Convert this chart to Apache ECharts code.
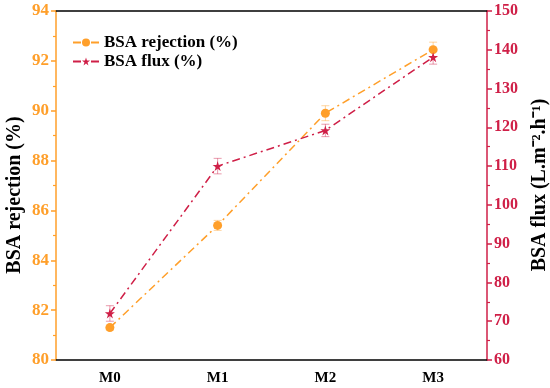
<!DOCTYPE html>
<html><head><meta charset="utf-8">
<script src="https://cdn.jsdelivr.net/npm/echarts@6/dist/echarts.min.js"></script>
<style>html,body{margin:0;padding:0;background:#fff}#c{width:550px;height:388px}</style>
</head><body><div id="c"></div>
<script>
const categories = ['M0', 'M1', 'M2', 'M3'];
const rejection = [81.3, 85.4, 89.9, 92.45];
const rejectionErr = [0.1, 0.2, 0.3, 0.3];
const flux = [72, 110, 119.2, 138.1];
const fluxErr = [2, 2, 1.6, 1.8];
const leftName = 'BSA rejection (%)';
const rightName = 'BSA flux (L.m\u207B\u00B2.h\u207B\u00B9)';
const ORANGE = '#FF9F2A';
const RED = '#CF1F47';
const FONT = '"Liberation Serif", "Times New Roman", serif';

function errItems(vals, errs) {
  return vals.map((v, i) => [i, v - errs[i], v + errs[i]]);
}
function errRender(color) {
  return function (params, api) {
    const x = api.value(0);
    const lo = api.coord([x, api.value(1)]);
    const hi = api.coord([x, api.value(2)]);
    const w = 4;
    const style = { stroke: color, lineWidth: 1, opacity: 0.45 };
    return {
      type: 'group',
      children: [
        { type: 'line', shape: { x1: lo[0], y1: lo[1], x2: hi[0], y2: hi[1] }, style },
        { type: 'line', shape: { x1: lo[0] - w, y1: lo[1], x2: lo[0] + w, y2: lo[1] }, style },
        { type: 'line', shape: { x1: hi[0] - w, y1: hi[1], x2: hi[0] + w, y2: hi[1] }, style }
      ]
    };
  };
}

const chart = echarts.init(document.getElementById('c'), null, { renderer: 'canvas' });
chart.setOption({
  animation: false,
  textStyle: { fontFamily: FONT },
  grid: { left: 56, right: 63, top: 11, bottom: 28 },
  graphic: [{
    type: 'text', x: 15, y: 195, rotation: Math.PI / 2,
    style: { text: leftName, fill: '#000', font: 'bold 20px ' + FONT, align: 'center', verticalAlign: 'middle' }
  }, {
    type: 'text', x: 540, y: 185, rotation: Math.PI / 2,
    style: { text: rightName, fill: '#000', font: 'bold 20px ' + FONT, align: 'center', verticalAlign: 'middle' }
  }],
  legend: {
    left: 67, top: 29, orient: 'vertical', itemGap: 2, itemWidth: 26, itemHeight: 10,
    textStyle: { fontFamily: FONT, fontWeight: 'bold', fontSize: 17, color: '#000' },
    data: ['BSA rejection (%)', 'BSA flux (%)']
  },
  xAxis: [{
    type: 'category', data: categories, position: 'bottom', boundaryGap: true,
    axisLine: { lineStyle: { color: '#000', width: 1.5 } },
    axisTick: { alignWithLabel: true, length: 5, lineStyle: { color: '#000', width: 1.5 } },
    axisLabel: { color: '#000', fontWeight: 'bold', fontSize: 15, fontFamily: FONT, margin: 11 }
  }, {
    type: 'category', data: categories, position: 'top', boundaryGap: true,
    axisLine: { show: true, onZero: false, lineStyle: { color: '#000', width: 1.5 } },
    axisTick: { alignWithLabel: true, inside: true, length: 5, lineStyle: { color: '#000', width: 1.5 } },
    axisLabel: { show: false }
  }],
  yAxis: [{
    type: 'value', min: 80, max: 94, interval: 2, position: 'left',
    axisLine: { show: true, lineStyle: { color: ORANGE, width: 1.5 } },
    axisTick: { show: true, length: 5, lineStyle: { color: ORANGE, width: 1.5 } },
    minorTick: { show: true, splitNumber: 2, length: 3, lineStyle: { color: ORANGE, width: 1.2 } },
    axisLabel: { color: ORANGE, fontWeight: 'bold', fontSize: 17, fontFamily: FONT, margin: 7 },
    splitLine: { show: false }
  }, {
    type: 'value', min: 60, max: 150, interval: 10, position: 'right',
    axisLine: { show: true, lineStyle: { color: RED, width: 1.5 } },
    axisTick: { show: true, length: 5, lineStyle: { color: RED, width: 1.5 } },
    minorTick: { show: true, splitNumber: 2, length: 3, lineStyle: { color: RED, width: 1.2 } },
    axisLabel: { color: RED, fontWeight: 'bold', fontSize: 16, fontFamily: FONT, margin: 7 },
    splitLine: { show: false }
  }],
  series: [{
    name: 'BSA rejection (%)', type: 'line', data: rejection, yAxisIndex: 0,
    symbol: 'circle', symbolSize: 9, itemStyle: { color: ORANGE },
    lineStyle: { color: ORANGE, width: 1.5, type: [8, 4, 2, 4] }, z: 3
  }, {
    name: 'BSA flux (%)', type: 'line', data: flux, yAxisIndex: 1,
    symbol: 'path://M50,0 L61.8,36.2 L100,36.2 L69.1,58.8 L80.9,95.1 L50,72.7 L19.1,95.1 L30.9,58.8 L0,36.2 L38.2,36.2 Z',
    symbolSize: 10, itemStyle: { color: RED },
    lineStyle: { color: RED, width: 1.5, type: [8, 4, 2, 4] }, z: 3
  }, {
    type: 'custom', yAxisIndex: 0, data: errItems(rejection, rejectionErr),
    renderItem: errRender(ORANGE), z: 2, silent: true
  }, {
    type: 'custom', yAxisIndex: 1, data: errItems(flux, fluxErr),
    renderItem: errRender(RED), z: 2, silent: true
  }]
});
</script></body></html>
